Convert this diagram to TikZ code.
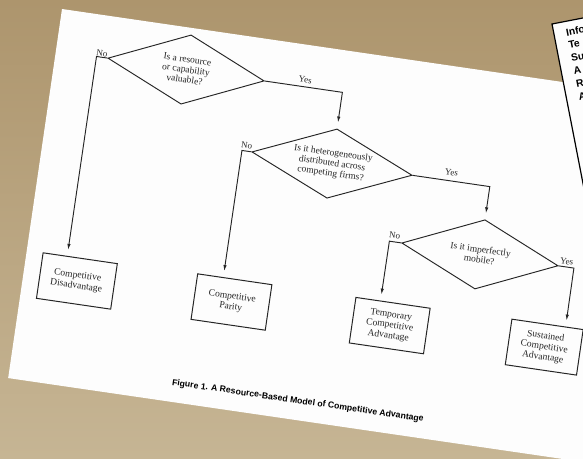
\documentclass[tikz,border=0pt]{standalone}
\usepackage{fontspec}
\setmainfont{Liberation Serif}
\newfontfamily\capfont{Liberation Sans}
\usetikzlibrary{shapes.geometric,arrows.meta,calc}
\definecolor{bgtop}{HTML}{AD956D}
\definecolor{bgbot}{HTML}{C6B594}
\definecolor{ink}{HTML}{262626}
\definecolor{paper}{HTML}{FDFDFD}
\begin{document}
\begin{tikzpicture}[x=1pt,y=1pt,
  dia/.style={diamond, shape aspect=2.3, draw=ink, line width=0.95pt, inner sep=0pt, minimum width=#1, minimum height=70pt, align=center, text=ink, font=\fontsize{9.5}{10.2}\selectfont},
  outbox/.style={rectangle, draw=ink, line width=1pt, inner sep=0pt, minimum width=#1, minimum height=46pt, align=center, text=ink, font=\fontsize{9.6}{10.6}\selectfont},
  lbl/.style={inner sep=0pt, text=ink, font=\fontsize{9}{10}\selectfont},
  ln/.style={draw=ink, line width=0.95pt},
  arr/.style={ln, -{Latex[length=6pt,width=3.4pt]}, shorten >=6pt},
  cardtxt/.style={anchor=west, inner sep=0pt, font=\capfont\bfseries\fontsize{10.3}{12}\selectfont, text=black}
]
\useasboundingbox (-62,-449) rectangle (521,9);
\clip (-62,-449) rectangle (521,9);
% background
\shade[top color=bgtop, bottom color=bgbot] (-62,-449) rectangle (521,9);

\begin{scope}[rotate=-8.3, transform shape]
  % paper sheet
  \fill[paper] (0,0) rectangle (700,-373);

  % decisions
  \node[dia=158pt] (d1) at (131.5,-42) {Is a resource\\or capability\\valuable?};
  \node[dia=162pt] (d2) at (289.5,-114) {Is it heterogeneously\\distributed across\\competing firms?};
  \node[dia=158pt] (d3) at (449,-182.5) {Is it imperfectly\\mobile?};

  % outcomes
  \node[outbox=75pt] (b1) at (54,-267) {Competitive\\Disadvantage};
  \node[outbox=75pt] (b2) at (210,-265.5) {Competitive\\Parity};
  \node[outbox=75pt] (b3) at (370,-266) {Temporary\\Competitive\\Advantage};
  \node[outbox=72pt] (b4) at (526,-265) {Sustained\\Competitive\\Advantage};

  % corners
  \coordinate (c1) at (41,-42);
  \coordinate (c2) at (289.5,-42);
  \coordinate (c3) at (198.5,-114);
  \coordinate (c4) at (449,-114);
  \coordinate (c5) at (357.5,-182.5);
  \coordinate (c6) at (544,-182.5);

  % connectors
  \draw[arr] (d1.west) -- (c1) -- ($(b1.north west)!0.3267!(b1.north east)$);
  \draw[arr] (d1.east) -- (c2) -- (d2.north);
  \draw[arr] (d2.west) -- (c3) -- ($(b2.north west)!0.3467!(b2.north east)$);
  \draw[arr] (d2.east) -- (c4) -- (d3.north);
  \draw[arr] (d3.west) -- (c5) -- ($(b3.north west)!0.3333!(b3.north east)$);
  \draw[arr] (d3.east) -- (c6) -- ($(b4.north west)!0.75!(b4.north east)$);

  % labels
  \node[lbl] (n1) at (46,-38) {No};
  \node[lbl] (y1) at (251,-35) {Yes};
  \node[lbl] (n2) at (202.5,-108) {No};
  \node[lbl] (y2) at (409,-105.5) {Yes};
  \node[lbl] (n3) at (362,-176.5) {No};
  \node[lbl] (y3) at (536,-177) {Yes};

  % caption
  \node[inner sep=0pt, text=black, font=\capfont\bfseries\fontsize{8.7}{10}\selectfont] (cap) at (290,-354) {Figure 1. A Resource-Based Model of Competitive Advantage};
\end{scope}

% overlapping card at top right
\begin{scope}[shift={(490,-15)}, rotate=11, transform shape]
  \filldraw[fill=paper, draw=black, line width=1.2pt] (0,0) rectangle (220,-320);
  \node[cardtxt] (k1) at (12,-11) {Info};
  \node[cardtxt] (k2) at (12,-24.2) {Te};
  \node[cardtxt] (k3) at (12,-37.4) {Su};
  \node[cardtxt] (k4) at (12,-50.6) {A};
  \node[cardtxt] (k5) at (12,-63.8) {R};
  \node[cardtxt] (k6) at (12,-77) {A};
\end{scope}
\end{tikzpicture}
\end{document}
